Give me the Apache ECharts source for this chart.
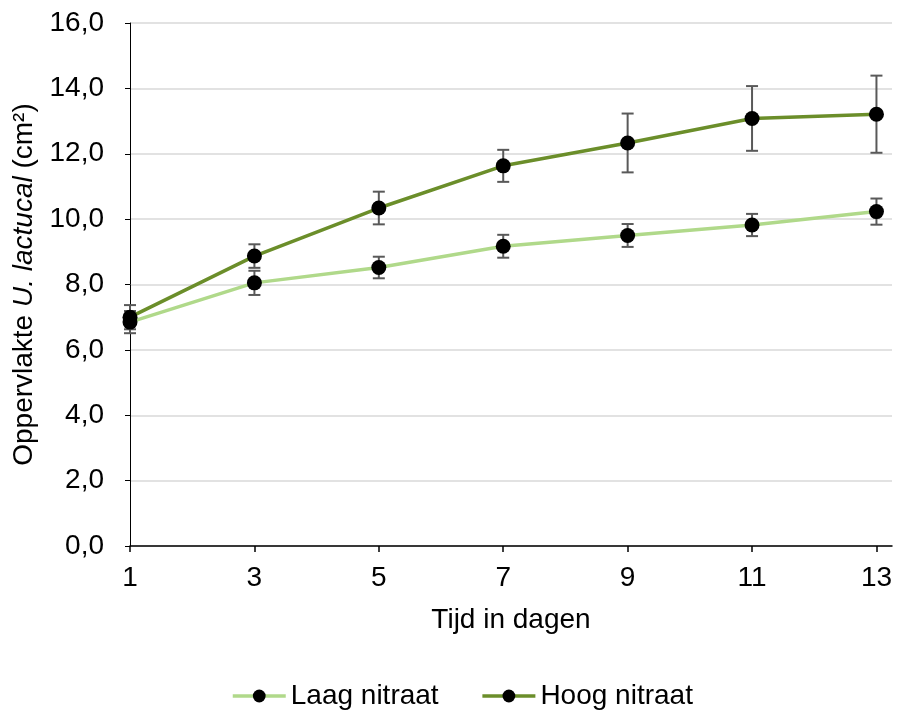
<!DOCTYPE html>
<html>
<head>
<meta charset="utf-8">
<script src="https://cdn.jsdelivr.net/npm/echarts@6/dist/echarts.min.js"></script>
<style>
  html, body { margin: 0; padding: 0; background: #fff; }
  #chart { width: 898px; height: 711px; }
</style>
</head>
<body>
<div id="chart"></div>
<script>
const days = [1, 3, 5, 7, 9, 11, 13];
const laag = [6.85, 8.05, 8.52, 9.17, 9.50, 9.82, 10.23];
const laagErr = [0.34, 0.37, 0.33, 0.35, 0.35, 0.34, 0.40];
const hoog = [7.00, 8.87, 10.34, 11.63, 12.33, 13.08, 13.21];
const hoogErr = [0.37, 0.36, 0.50, 0.49, 0.90, 0.99, 1.18];

const font = "'Liberation Sans', Arial, sans-serif";
const laagColor = "#b0d98a";
const hoogColor = "#6b8e2a";
const fs = 28;

function errData(vals, errs) {
  return days.map((d, i) => [d, vals[i] - errs[i], vals[i] + errs[i]]);
}

function renderErr(params, api) {
  const top = api.coord([api.value(0), api.value(2)]);
  const bot = api.coord([api.value(0), api.value(1)]);
  const w = 6;
  const style = { stroke: "#595959", lineWidth: 2 };
  return {
    type: "group",
    children: [
      { type: "line", shape: { x1: top[0], y1: top[1], x2: bot[0], y2: bot[1] }, style: style },
      { type: "line", shape: { x1: top[0] - w, y1: top[1], x2: top[0] + w, y2: top[1] }, style: style },
      { type: "line", shape: { x1: bot[0] - w, y1: bot[1], x2: bot[0] + w, y2: bot[1] }, style: style },
    ],
  };
}

let myChart = echarts.init(document.getElementById("chart"));
myChart.setOption({
  backgroundColor: "#fff",
  animation: false,
  textStyle: { fontFamily: font, color: "#000" },
  grid: {
    left: 130,
    right: 6,
    top: 23,
    bottom: 165,
  },
  legend: {
    data: ["Laag nitraat", "Hoog nitraat"],
    top: 677,
    left: 226,
    itemWidth: 53,
    itemHeight: 16,
    itemGap: 42,
    lineStyle: { width: 3.5 },
    textStyle: { fontSize: fs, color: "#000", fontFamily: font },
  },
  xAxis: {
    type: "value",
    min: 1,
    max: 13.25,
    name: "Tijd in dagen",
    nameLocation: "middle",
    nameGap: 60,
    nameTextStyle: { fontSize: fs, color: "#000" },
    axisLine: { show: true, onZero: false, lineStyle: { color: "#000", width: 1.5 } },
    axisTick: { show: true, length: 6, customValues: days, lineStyle: { color: "#000", width: 1.5 } },
    axisLabel: { customValues: days, fontSize: fs, color: "#000", margin: 18 },
    splitLine: { show: false },
  },
  yAxis: {
    type: "value",
    min: 0,
    max: 16,
    interval: 2,
    name: "{a|Oppervlakte }{i|U. lactucal}{a| (cm²)}",
    nameLocation: "middle",
    nameRotate: 90,
    nameGap: 86,
    nameTextStyle: {
      rich: {
        a: { fontSize: fs, color: "#000", fontFamily: font },
        i: { fontSize: fs, color: "#000", fontFamily: font, fontStyle: "italic" },
      },
    },
    axisLine: { show: true, lineStyle: { color: "#000", width: 1 } },
    axisTick: { show: true, length: 5, lineStyle: { color: "#000" } },
    axisLabel: {
      fontSize: fs,
      color: "#000",
      margin: 26,
      formatter: (v) => v.toFixed(1).replace(".", ","),
    },
    splitLine: { lineStyle: { color: "#d9d9d9", width: 1.5 } },
  },
  series: [
    {
      name: "laagErr",
      type: "custom",
      renderItem: renderErr,
      data: errData(laag, laagErr),
      z: 1,
    },
    {
      name: "hoogErr",
      type: "custom",
      renderItem: renderErr,
      data: errData(hoog, hoogErr),
      z: 1,
    },
    {
      name: "Laag nitraat",
      type: "line",
      data: days.map((d, i) => [d, laag[i]]),
      symbol: "circle",
      symbolSize: 15,
      color: laagColor,
      lineStyle: { color: laagColor, width: 3.5 },
      itemStyle: { color: "#000" },
      z: 3,
    },
    {
      name: "Hoog nitraat",
      type: "line",
      data: days.map((d, i) => [d, hoog[i]]),
      symbol: "circle",
      symbolSize: 15,
      color: hoogColor,
      lineStyle: { color: hoogColor, width: 3.5 },
      itemStyle: { color: "#000" },
      z: 3,
    },
  ],
});
window.onresize = function () {
  myChart.resize();
};
</script>
</body>
</html>
